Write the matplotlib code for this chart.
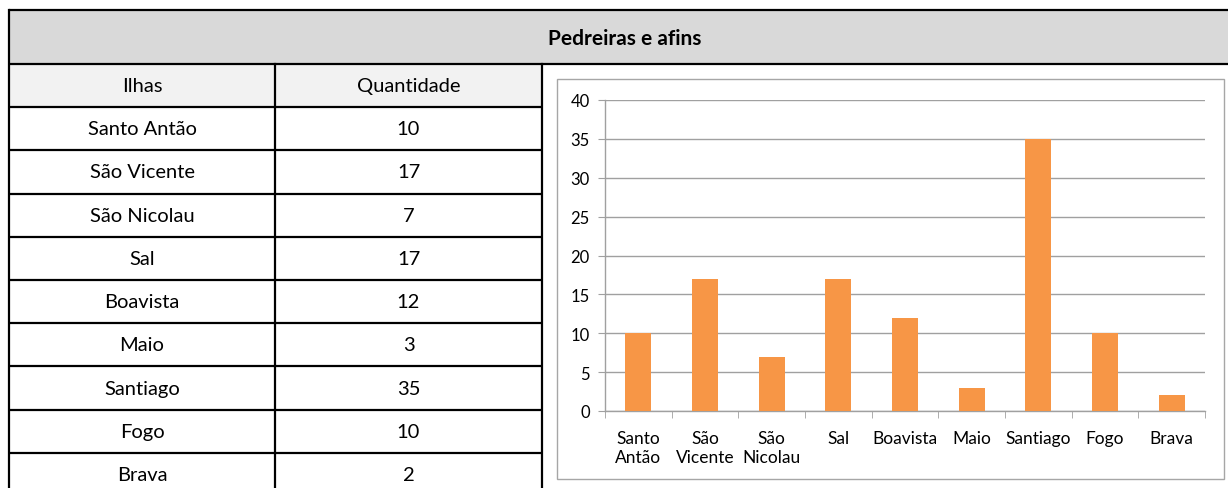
import matplotlib
matplotlib.use("Agg")
import matplotlib.pyplot as plt
from matplotlib.patches import Rectangle

ilhas = ["Santo Antão", "São Vicente", "São Nicolau", "Sal", "Boavista",
         "Maio", "Santiago", "Fogo", "Brava"]
quantidade = [10, 17, 7, 17, 12, 3, 35, 10, 2]
chart_labels = ["Santo\nAntão", "São\nVicente", "São\nNicolau", "Sal", "Boavista",
                "Maio", "Santiago", "Fogo", "Brava"]
title = "Pedreiras e afins"
col_headers = ["Ilhas", "Quantidade"]
yticks = [0, 5, 10, 15, 20, 25, 30, 35, 40]

plt.rcParams['font.family'] = ['Lato', 'DejaVu Sans']

W, H = 1228, 489
fig = plt.figure(figsize=(W / 100, H / 100), dpi=100)

# background axes in pixel coordinates
bg = fig.add_axes([0, 0, 1, 1])
bg.set_xlim(0, W)
bg.set_ylim(H, 0)
bg.axis("off")

LW = 1.6
x_left, x_div, x_mid, x_right = 9, 275, 542, 1240
y_top, y_band = 11, 65
row_h = 43.2
FS = 14.5

# title band
bg.add_patch(Rectangle((x_left, y_top), x_right - x_left, y_band - y_top,
                       facecolor="#d9d9d9", edgecolor="none"))
# header row fill
bg.add_patch(Rectangle((x_left, y_band), x_mid - x_left, row_h,
                       facecolor="#f2f2f2", edgecolor="none"))
bg.text(625, (y_top + y_band) / 2 + 1, title, ha="center",
        va="center", fontsize=15, fontweight="bold", color="black")

# lines
bg.plot([x_left, x_right], [y_top, y_top], color="black", lw=LW, solid_capstyle="butt")
bg.plot([x_left, x_right], [y_band, y_band], color="black", lw=LW, solid_capstyle="butt")
bg.plot([x_left, x_left], [y_top, H + 5], color="black", lw=LW)
bg.plot([x_div, x_div], [y_band, H + 5], color="black", lw=LW)
bg.plot([x_mid, x_mid], [y_band, H + 5], color="black", lw=LW)

# header text
bg.text((x_left + x_div) / 2, y_band + row_h / 2, col_headers[0], ha="center",
        va="center", fontsize=FS)
bg.text((x_div + x_mid) / 2, y_band + row_h / 2, col_headers[1], ha="center",
        va="center", fontsize=FS)

for i, (name, q) in enumerate(zip(ilhas, quantidade)):
    y0 = y_band + row_h * (i + 1)
    bg.plot([x_left, x_mid], [y0, y0], color="black", lw=LW, solid_capstyle="butt")
    yc = y0 + row_h / 2
    bg.text((x_left + x_div) / 2, yc, name, ha="center", va="center", fontsize=FS)
    bg.text((x_div + x_mid) / 2, yc, str(q), ha="center", va="center", fontsize=FS)

# chart frame
bg.add_patch(Rectangle((557, 80), 1224 - 557, 480 - 80, facecolor="white",
                       edgecolor="#a6a6a6", lw=1.0))

# chart axes
px0, px1 = 605, 1205
py_top, py_bot = 101, 412
ax = fig.add_axes([px0 / W, 1 - py_bot / H, (px1 - px0) / W, (py_bot - py_top) / H])
ax.set_facecolor("none")
x = list(range(len(quantidade)))
ax.bar(x, quantidade, width=0.39, color="#f79646", zorder=3)
ax.set_xlim(-0.5, len(quantidade) - 0.5)
ax.set_ylim(0, 40)
ax.set_yticks(yticks)
ax.set_yticklabels([str(v) for v in yticks], fontsize=12)
ax.yaxis.grid(True, color="#a0a0a0", lw=1.0, zorder=0)
for s in ["top", "right"]:
    ax.spines[s].set_visible(False)
ax.spines["left"].set_color("#a0a0a0")
ax.spines["bottom"].set_color("#a0a0a0")
ax.spines["left"].set_linewidth(1.0)
ax.spines["bottom"].set_linewidth(1.0)
ax.tick_params(axis="y", length=5, color="#a0a0a0", pad=6)
ax.set_xticks(x)
ax.set_xticklabels(chart_labels, fontsize=12.5, va="top", linespacing=1.2)
ax.tick_params(axis="x", length=0, pad=14)
ax.set_xticks([i - 0.5 for i in range(len(quantidade) + 1)], minor=True)
ax.tick_params(axis="x", which="minor", length=5, color="#a0a0a0")

fig.savefig("out.png", dpi=100)
